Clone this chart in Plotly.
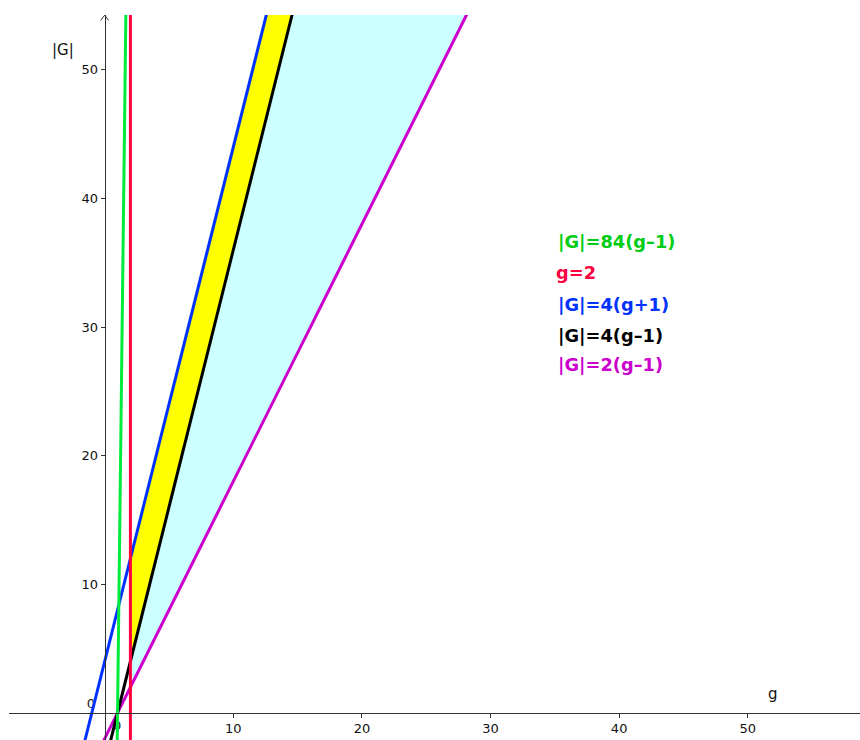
import numpy as np
import plotly.graph_objects as go

# ---- data -------------------------------------------------------------
x_tick_vals = [10, 20, 30, 40, 50]
y_tick_vals = [10, 20, 30, 40, 50]
x_tick_text = ["10", "20", "30", "40", "50"]
y_tick_text = ["10", "20", "30", "40", "50"]

# lines of the form |G| = k * (g + c)
line_labels = ["|G|=84(g-1)", "|G|=4(g+1)", "|G|=4(g-1)", "|G|=2(g-1)"]
line_k = [84, 4, 4, 2]
line_c = [-1, 1, -1, -1]
vertical_label = "g=2"
vertical_g = 2
axis_x_title = "g"
axis_y_title = "|G|"

# ---- styling ----------------------------------------------------------
X_RANGE = [-7.44, 58.73]
Y_RANGE = [-2.11, 54.27]
col_green = "rgb(0,235,60)"
col_red = "rgb(255,0,64)"
col_blue = "rgb(0,50,255)"
col_black = "rgb(0,0,0)"
col_mag = "rgb(204,0,204)"
txt_green = "rgb(0,205,20)"
FONT = "DejaVu Sans"

def f(k, c, g):
    return k * (np.asarray(g, dtype=float) + c)

fig = go.Figure()

# origin labels (drawn first so lines pass over them)
fig.add_trace(go.Scatter(x=[-1.07, 0.96], y=[0.62, -1.10], mode="text", text=["0", "0"],
                         textfont=dict(family=FONT, size=13, color="#222"),
                         hoverinfo="skip", showlegend=False))

# yellow region between 4(g+1) and 4(g-1), right of g=2
gmax = 30
gy = np.array([vertical_g, gmax])
yy_top = f(line_k[1], line_c[1], gy)
yy_bot = f(line_k[2], line_c[2], gy)
fig.add_trace(go.Scatter(x=[gy[0], gy[1], gy[1], gy[0], gy[0]],
                         y=[yy_top[0], yy_top[1], yy_bot[1], yy_bot[0], yy_top[0]],
                         mode="lines", fill="toself", fillcolor="rgb(255,255,0)",
                         line=dict(width=0), hoverinfo="skip", showlegend=False))
# cyan region between 4(g-1) and 2(g-1), right of g=2
gmax2 = 60
gc = np.array([vertical_g, gmax2])
yc_top = f(line_k[2], line_c[2], gc)
yc_bot = f(line_k[3], line_c[3], gc)
fig.add_trace(go.Scatter(x=[gc[0], gc[1], gc[1], gc[0], gc[0]],
                         y=[yc_top[0], yc_top[1], yc_bot[1], yc_bot[0], yc_top[0]],
                         mode="lines", fill="toself", fillcolor="rgb(204,255,255)",
                         line=dict(width=0), hoverinfo="skip", showlegend=False))

# straight lines
g_all = np.array([-10.0, 70.0])
for idx, col in [(3, col_mag), (2, col_black), (1, col_blue)]:
    fig.add_trace(go.Scatter(x=g_all, y=f(line_k[idx], line_c[idx], g_all), mode="lines",
                             line=dict(color=col, width=3), hoverinfo="skip", showlegend=False))
# vertical g=2
fig.add_trace(go.Scatter(x=[vertical_g, vertical_g], y=[-10, 70], mode="lines",
                         line=dict(color=col_red, width=3), hoverinfo="skip", showlegend=False))
# steep green line
g_g = np.array([0.8, 1.9])
fig.add_trace(go.Scatter(x=g_g, y=f(line_k[0], line_c[0], g_g), mode="lines",
                         line=dict(color=col_green, width=3), hoverinfo="skip", showlegend=False))

axis_common = dict(showgrid=False, zeroline=False, showline=True, linecolor="#333",
                   linewidth=1, ticks="outside", ticklen=4, tickcolor="#333", tickwidth=1,
                   tickfont=dict(family=FONT, size=13, color="#111"), anchor="free")

x_pos = (0 - Y_RANGE[0]) / (Y_RANGE[1] - Y_RANGE[0])
y_pos = (0 - X_RANGE[0]) / (X_RANGE[1] - X_RANGE[0])

fig.update_layout(
    width=860, height=740, autosize=False,
    margin=dict(l=9, r=0, t=15, b=0, pad=0),
    paper_bgcolor="white", plot_bgcolor="white",
    showlegend=False,
    xaxis=dict(range=X_RANGE, tickvals=x_tick_vals, ticktext=x_tick_text,
               position=x_pos, **axis_common),
    yaxis=dict(range=Y_RANGE, tickvals=y_tick_vals, ticktext=y_tick_text,
               position=y_pos, **axis_common),
)

# arrow head on the y axis
fig.add_shape(type="path", xref="x", yref="y",
              path=f"M -0.31,{Y_RANGE[1]-0.42} L 0,{Y_RANGE[1]-0.02} L 0.31,{Y_RANGE[1]-0.42}",
              line=dict(color="#333", width=1))

# axis titles
fig.add_annotation(x=-3.24, y=51.55, text=axis_y_title, showarrow=False,
                   font=dict(family=FONT, size=15, color="#111"))
fig.add_annotation(x=51.97, y=1.47, text=axis_x_title, showarrow=False,
                   font=dict(family=FONT, size=15, color="#111"))

# equation labels
label_texts = [line_labels[0], vertical_label, line_labels[1], line_labels[2], line_labels[3]]
label_cols = [txt_green, col_red, col_blue, col_black, col_mag]
label_y = [36.68, 34.27, 31.78, 29.37, 27.06]
label_x = [35.1, 34.95, 35.1, 35.1, 35.1]
for t, c, yv, xv in zip(label_texts, label_cols, label_y, label_x):
    fig.add_annotation(x=xv, y=yv, text=f"<b>{t.replace('-', '–')}</b>", showarrow=False,
                       xanchor="left", yanchor="middle",
                       font=dict(family=FONT, size=17.8, color=c))

fig.write_html("out.html",
               config={"displayModeBar": False, "staticPlot": True},
               post_script="document.body.style.margin='0';document.body.style.overflow='hidden';")
